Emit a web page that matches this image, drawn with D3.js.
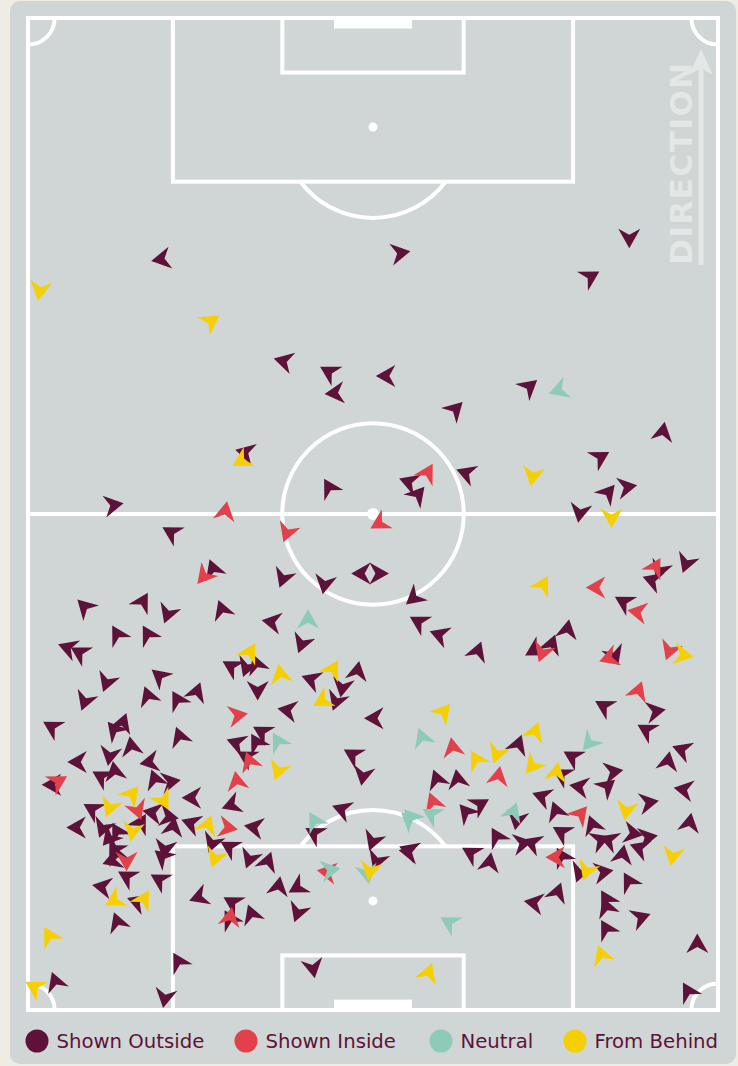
<!DOCTYPE html>
<html>
<head>
<meta charset="utf-8">
<script src="https://cdn.jsdelivr.net/npm/d3@7"></script>
<style>
  html, body { margin: 0; padding: 0; background: #efede3; }
  svg { display: block; }
</style>
</head>
<body>
<svg id="chart" width="738" height="1066"></svg>
<script>
// Legend categories and their colours
const categories = ["Shown Outside", "Shown Inside", "Neutral", "From Behind"];
const categoryColors = ["#5e1239", "#e2404a", "#8ecab8", "#f6cf00"];

// Pitch dimensions in metres (width across, length along the attacking direction)
const pitchWidth = 70;
const pitchLength = 100;

// Each event: [x across pitch (m), y along pitch (m, attacking upward), heading in degrees (0 = up, clockwise)]
const shownOutside = [
  [13.6,75.7,260],[37.7,76.3,80],[61.0,77.9,180],[57.0,73.9,60],[26.0,65.4,285],[30.6,64.3,300],[31.2,62.2,265],
  [36.4,63.9,270],[43.3,60.5,45],[50.8,62.8,50],[64.4,58.2,10],[58.0,55.7,60],[22.1,56.2,285],
  [30.6,52.6,330],[38.7,53.2,290],[39.5,51.9,40],[44.5,54.1,290],[58.8,52.1,40],[60.7,52.7,80],[56.0,50.2,190],[8.6,50.9,80],
  [33.9,44.0,270],[35.5,44.0,90],[14.6,48.1,300],[18.8,44.4,340],[25.9,43.6,200],[30.1,43.0,190],
  [5.8,40.6,315],[11.6,41.1,30],[14.2,40.0,200],[19.7,40.3,340],[24.8,39.1,280],[9.1,37.8,330],[12.2,37.8,330],
  [4.1,36.5,290],[5.3,36.0,300],[27.8,37.0,200],
  [20.7,34.6,300],[23.2,34.8,340],[22.2,34.6,200],[28.8,33.3,290],[33.4,34.1,10],[31.9,32.6,190],[8.0,33.1,200],
  [13.4,33.6,310],[23.3,32.3,180],[5.8,31.2,200],[12.2,31.6,340],[17.1,32.0,20],[15.2,31.2,330],[31.3,31.2,200],
  [39.2,41.6,230],[39.7,39.1,300],[41.8,37.8,290],[45.6,36.1,20],[64.1,44.4,200],[63.4,43.3,290],[66.8,45.1,200],
  [60.5,41.1,300],[54.7,38.3,10],[53.1,36.8,20],[51.4,36.3,240],[59.5,35.8,160],[58.5,30.6,300],[63.6,30.1,80],
  [2.5,28.5,300],[8.8,28.2,320],[9.6,28.9,20],[15.4,27.5,340],[5.1,25.0,270],[8.3,25.7,190],[10.5,26.5,350],
  [12.4,25.0,260],[7.5,23.5,300],[8.8,24.0,350],[12.9,23.2,340],[14.4,23.0,80],[2.5,22.7,270],[16.7,21.4,270],
  [6.6,20.2,300],[5.0,18.4,270],[7.6,18.4,200],[9.1,17.9,330],[8.3,17.4,220],[11.4,18.8,30],[12.7,19.9,280],
  [14.7,18.4,10],[14.2,19.5,100],[16.6,18.8,290],[18.7,16.9,200],[20.5,16.4,300],[8.8,16.4,210],[9.0,15.6,340],
  [8.6,15.1,250],[13.9,16.3,190],[13.7,15.4,310],[10.1,13.4,300],[13.4,13.1,300],[7.6,12.4,280],[11.1,10.9,290],
  [17.4,11.4,250],[20.5,9.1,330],[9.1,8.8,340],
  [26.4,30.2,280],[35.2,29.4,270],[23.8,28.0,300],[23.2,26.9,330],[21.2,26.9,290],[22.2,25.5,300],[33.0,25.7,300],
  [34.0,23.7,190],[20.7,20.7,250],[23.0,18.4,280],[29.1,17.8,300],[31.9,20.2,290],[35.0,17.1,200],[38.7,16.1,290],
  [22.5,15.3,200],[24.3,14.9,20],[35.4,15.1,200],[25.4,12.4,10],[27.4,12.4,240],[20.8,10.8,300],[22.7,9.6,340],
  [27.4,9.9,200],
  [62.8,28.2,300],[49.7,26.7,20],[66.4,26.2,290],[41.5,23.2,340],[43.6,23.2,350],[54.2,23.7,300],[55.3,25.5,300],
  [56.0,22.5,280],[58.7,22.5,50],[59.3,24.0,80],[64.9,25.0,10],[66.6,22.2,280],[62.9,20.9,80],[67.1,18.8,10],
  [45.8,20.7,60],[44.5,19.9,320],[49.6,19.2,190],[52.2,21.5,290],[53.6,20.0,340],[57.3,18.6,340],[54.2,17.9,300],
  [58.0,17.1,70],[59.0,17.1,290],[61.3,17.8,100],[62.8,17.4,80],[62.1,16.3,290],[60.3,15.6,10],[47.6,17.4,330],
  [51.2,16.8,290],[50.1,16.8,80],[38.7,15.9,280],[45.0,15.8,300],[46.8,14.8,10],[54.2,15.4,330],[58.3,13.9,80],
  [56.0,13.9,200],[61.0,12.9,330],[53.7,11.8,20],[51.4,10.8,280],[58.7,11.1,330],[58.7,10.3,340],[62.1,9.3,70],
  [58.7,8.1,330],[67.9,6.6,0],
  [15.3,4.8,330],[2.8,2.8,340],[13.9,1.3,190],[28.9,4.3,170],[67.0,1.8,330]
];

const shownInside = [
  [40.5,54.1,30],[20.0,50.2,10],[26.3,48.2,200],[35.7,49.1,240],[17.9,43.8,220],[57.7,42.6,270],[63.6,44.6,30],
  [61.9,40.1,280],[52.2,36.1,200],[59.0,35.5,250],[65.1,36.3,200],[61.9,32.1,20],[3.0,23.0,60],[11.1,20.2,160],
  [20.2,18.4,100],[10.0,15.1,180],[20.5,9.3,10],[21.2,29.7,80],[22.5,25.0,340],[21.2,23.0,350],[30.4,13.9,280],
  [43.1,26.4,350],[47.7,23.5,10],[41.1,20.9,340],[56.0,19.7,40],[53.6,15.4,270]
];

const neutral = [
  [53.9,62.5,250],[28.4,39.3,0],[25.4,27.0,330],[40.0,27.4,340],[29.1,19.0,330],[38.9,19.4,320],[30.6,14.1,80],
  [34.4,13.8,170],[57.0,27.0,220],[41.0,19.7,300],[38.7,19.2,310],[49.2,19.9,20],[42.8,8.8,300]
];

const fromBehind = [
  [1.2,72.6,190],[18.5,69.4,55],[21.7,55.4,240],[51.2,53.9,190],[59.2,49.7,180],[22.5,36.0,30],[25.6,33.8,350],
  [30.9,34.3,30],[29.9,31.2,240],[52.2,42.8,30],[66.4,35.8,100],[10.5,21.7,40],[8.3,20.5,200],[13.7,21.2,150],
  [10.6,18.1,190],[18.2,18.6,20],[19.0,15.4,200],[8.8,11.1,240],[11.7,11.1,30],[2.2,7.4,330],[25.4,24.2,200],
  [34.7,14.1,190],[42.1,30.0,40],[45.5,25.2,330],[47.6,25.9,200],[51.4,28.0,20],[51.2,24.7,220],[53.6,23.9,10],
  [60.7,20.2,190],[56.7,14.1,200],[65.4,15.6,190],[0.7,2.3,300],[40.6,3.7,20],[58.2,5.5,340]
];

const seriesData = [shownOutside, shownInside, neutral, fromBehind];

const svg = d3.select("#chart");

// Card background
svg.append("rect")
  .attr("x", 10).attr("y", 1)
  .attr("width", 726).attr("height", 1063)
  .attr("rx", 10)
  .attr("fill", "#d0d6d5");

const x = d3.scaleLinear().domain([0, pitchWidth]).range([28, 718]);
const y = d3.scaleLinear().domain([0, pitchLength]).range([1010, 18]);

const lineColor = "#ffffff";
const lw = 4;
const pitch = svg.append("g")
  .attr("fill", "none")
  .attr("stroke", lineColor)
  .attr("stroke-width", lw);

const rectM = (x0, y0, x1, y1) => pitch.append("rect")
  .attr("x", x(x0)).attr("y", y(y1))
  .attr("width", x(x1) - x(x0))
  .attr("height", y(y0) - y(y1));

// Outer boundary and halfway line
rectM(0, 0, pitchWidth, pitchLength);
pitch.append("line")
  .attr("x1", x(0)).attr("x2", x(pitchWidth))
  .attr("y1", y(pitchLength / 2)).attr("y2", y(pitchLength / 2));

const mid = pitchWidth / 2;
const circleR = y(0) - y(9.15);
pitch.append("circle")
  .attr("cx", x(mid)).attr("cy", y(pitchLength / 2))
  .attr("r", circleR);

// Penalty areas, goal areas, goals, spots and arcs at both ends
const boxHalf = 20.3, boxDepth = 16.5;
const sixHalf = 9.2, sixDepth = 5.5;
const goalHalf = 3.95, goalDepth = 1.05;
const spotDist = 11;
const arcAngle = Math.acos((boxDepth - spotDist) / 9.15);

[0, pitchLength].forEach(end => {
  const dir = end === 0 ? 1 : -1;
  rectM(mid - boxHalf, Math.min(end, end + dir * boxDepth), mid + boxHalf, Math.max(end, end + dir * boxDepth));
  rectM(mid - sixHalf, Math.min(end, end + dir * sixDepth), mid + sixHalf, Math.max(end, end + dir * sixDepth));

  const gy0 = Math.min(end, end + dir * goalDepth), gy1 = Math.max(end, end + dir * goalDepth);
  svg.append("rect")
    .attr("x", x(mid - goalHalf)).attr("y", y(gy1))
    .attr("width", x(mid + goalHalf) - x(mid - goalHalf))
    .attr("height", y(gy0) - y(gy1))
    .attr("fill", lineColor);

  const spotY = end + dir * spotDist;
  svg.append("circle")
    .attr("cx", x(mid)).attr("cy", y(spotY))
    .attr("r", 4.5).attr("fill", lineColor);

  const p = d3.path();
  const centreA = dir === 1 ? -Math.PI / 2 : Math.PI / 2;
  p.arc(x(mid), y(spotY), circleR, centreA - arcAngle, centreA + arcAngle);
  pitch.append("path").attr("d", p.toString());
});

// Centre spot
svg.append("circle")
  .attr("cx", x(mid)).attr("cy", y(pitchLength / 2))
  .attr("r", 6).attr("fill", lineColor);

// Corner arcs
const cornerR = x(2.7) - x(0);
[
  [0, pitchLength, 0, Math.PI / 2],
  [pitchWidth, pitchLength, Math.PI / 2, Math.PI],
  [pitchWidth, 0, Math.PI, 1.5 * Math.PI],
  [0, 0, 1.5 * Math.PI, 2 * Math.PI]
].forEach(([cx, cy, a0, a1]) => {
  const p = d3.path();
  p.arc(x(cx), y(cy), cornerR, a0, a1);
  pitch.append("path").attr("d", p.toString());
});

// Direction-of-play indicator
const dirColor = "#e3e7e6";
svg.append("text")
  .attr("transform", "translate(692,163) rotate(-90)")
  .attr("text-anchor", "middle")
  .attr("font-family", "DejaVu Sans, sans-serif")
  .attr("font-weight", "bold")
  .attr("font-size", 31)
  .attr("letter-spacing", 1.5)
  .attr("fill", dirColor)
  .text("DIRECTION");
svg.append("line")
  .attr("x1", 701).attr("x2", 701)
  .attr("y1", 265).attr("y2", 62)
  .attr("stroke", dirColor).attr("stroke-width", 5);
svg.append("path")
  .attr("d", "M701,49L713,75L701,68L689,75Z")
  .attr("fill", dirColor);

// Event markers: notched arrowheads rotated to each heading
const arrowPath = "M0,-11L11,8.5L0,2.5L-11,8.5Z";
const marks = svg.append("g");
seriesData.forEach((series, i) => {
  marks.append("g")
    .selectAll("path")
    .data(series)
    .join("path")
    .attr("d", arrowPath)
    .attr("transform", d => `translate(${x(d[0])},${y(d[1])}) rotate(${d[2]})`)
    .attr("fill", categoryColors[i]);
});

// Legend
const legendX = [37, 246, 441, 575];
const legend = svg.append("g")
  .attr("font-family", "DejaVu Sans, sans-serif")
  .attr("font-size", 19.7);
categories.forEach((name, i) => {
  const g = legend.append("g").attr("transform", `translate(${legendX[i]},1041)`);
  g.append("circle").attr("r", 11.5).attr("fill", categoryColors[i]);
  g.append("text")
    .attr("x", 19.5).attr("y", 7)
    .attr("fill", categoryColors[0])
    .text(name);
});
</script>
</body>
</html>
